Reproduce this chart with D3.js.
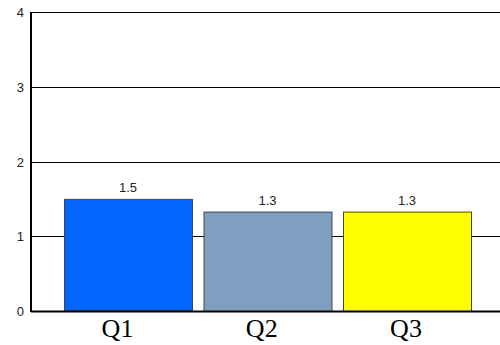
<!DOCTYPE html>
<html>
<head>
<meta charset="utf-8">
<script src="https://cdn.jsdelivr.net/npm/d3@7"></script>
<style>
  body { margin: 0; background: #fff; }
</style>
</head>
<body>
<script>
// chart data
var categories = ["Q1", "Q2", "Q3"];
var values = [1.5, 1.33, 1.33];
var valueLabels = ["1.5", "1.3", "1.3"];
var barColors = ["#0066ff", "#7f9fc0", "#ffff00"];
var yTicks = [0, 1, 2, 3, 4];

var width = 500, height = 345;
var plotLeft = 31, plotTop = 12, plotBottom = 311;

var svg = d3.select("body")
  .append("svg")
    .attr("width", width)
    .attr("height", height);

var y = d3.scaleLinear()
  .domain([0, 4])
  .range([plotBottom, plotTop]);

var x = d3.scaleBand()
  .domain(categories)
  .range([58.25, 476.75])
  .paddingInner(0.0824)
  .paddingOuter(0.0412);

// category labels sit on their own spacing, slightly left of the bars
var xLabel = d3.scalePoint()
  .domain(categories)
  .range([117.5, 406]);

// gridlines
svg.append("g")
  .selectAll("line")
  .data(yTicks.slice(1))
  .enter()
  .append("line")
    .attr("x1", plotLeft)
    .attr("x2", width)
    .attr("y1", function(d) { return Math.round(y(d)) + 0.5; })
    .attr("y2", function(d) { return Math.round(y(d)) + 0.5; })
    .attr("stroke", "#000")
    .attr("stroke-width", 1);

// y tick labels
svg.append("g")
  .selectAll("text")
  .data(yTicks)
  .enter()
  .append("text")
    .attr("x", 24)
    .attr("y", function(d) { return y(d) + 5; })
    .attr("text-anchor", "end")
    .style("font", "13px 'Liberation Sans', Arial, sans-serif")
    .attr("fill", "#222")
    .text(function(d) { return d; });

// bars
svg.append("g")
  .selectAll("rect")
  .data(values)
  .enter()
  .append("rect")
    .attr("x", function(d, i) { return x(categories[i]) + 0.5; })
    .attr("y", function(d) { return y(d) + 0.5; })
    .attr("width", x.bandwidth())
    .attr("height", function(d) { return y(0) - y(d); })
    .attr("fill", function(d, i) { return barColors[i]; })
    .attr("stroke", "#444")
    .attr("stroke-width", 1);

// value labels
svg.append("g")
  .selectAll("text")
  .data(values)
  .enter()
  .append("text")
    .attr("x", function(d, i) { return x(categories[i]) + x.bandwidth() / 2; })
    .attr("y", function(d) { return y(d) - 7; })
    .attr("text-anchor", "middle")
    .style("font", "13px 'Liberation Sans', Arial, sans-serif")
    .attr("fill", "#222")
    .text(function(d, i) { return valueLabels[i]; });

// axes lines
svg.append("line")
  .attr("x1", plotLeft).attr("x2", plotLeft)
  .attr("y1", plotTop).attr("y2", plotBottom + 1)
  .attr("stroke", "#000").attr("stroke-width", 2);
svg.append("line")
  .attr("x1", plotLeft).attr("x2", width)
  .attr("y1", plotBottom + 0.5).attr("y2", plotBottom + 0.5)
  .attr("stroke", "#000").attr("stroke-width", 2);

// category labels
svg.append("g")
  .selectAll("text")
  .data(categories)
  .enter()
  .append("text")
    .attr("x", function(d) { return xLabel(d); })
    .attr("y", 337)
    .attr("text-anchor", "middle")
    .style("font", "26px 'Liberation Serif', 'Times New Roman', serif")
    .attr("fill", "#000")
    .text(function(d) { return d; });
</script>
</body>
</html>
